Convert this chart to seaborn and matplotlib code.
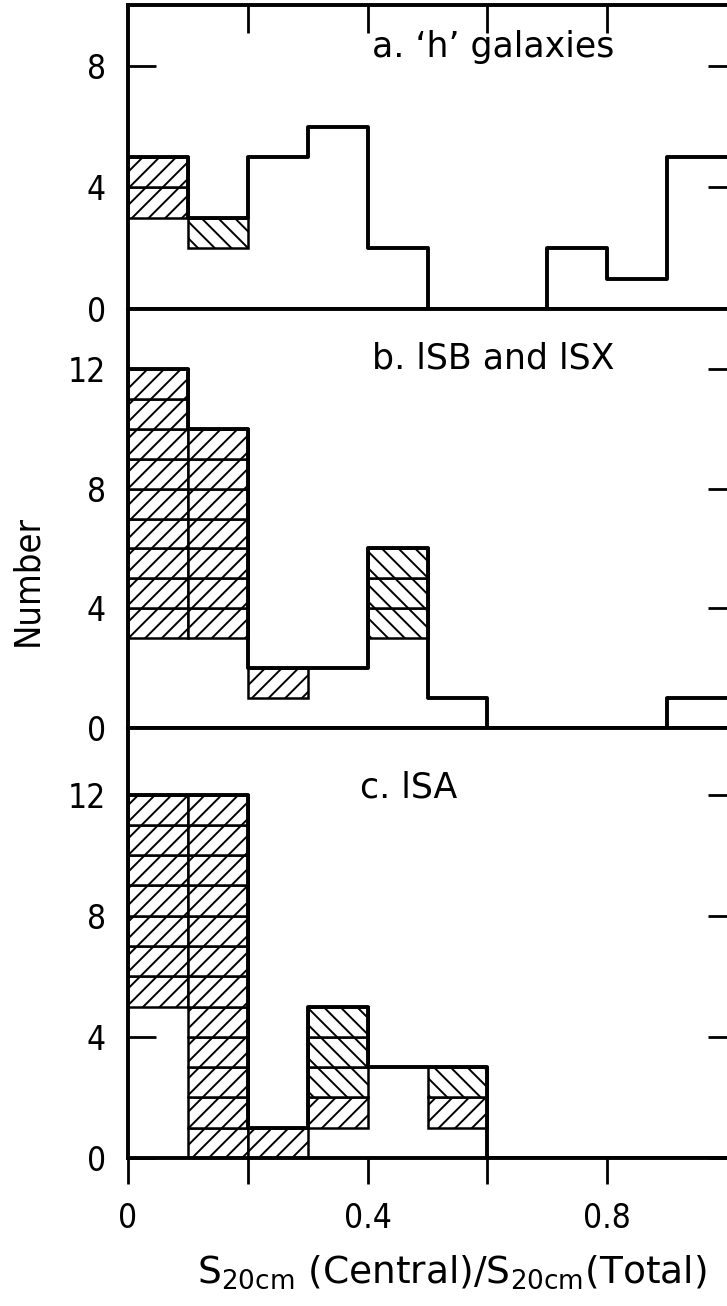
import numpy as np
import pandas as pd
import matplotlib
matplotlib.use("Agg")
import matplotlib.pyplot as plt
import seaborn as sns

# ---------------- data ----------------
bin_edges = [0.0, 0.1, 0.2, 0.3, 0.4, 0.5, 0.6, 0.7, 0.8, 0.9, 1.0]
# counts per bin: unshaded part, '/'-hatched part (above), '\'-hatched part (on top)
a_plain = [3, 2, 5, 6, 2, 0, 0, 2, 1, 5]
a_fwd   = [2, 0, 0, 0, 0, 0, 0, 0, 0, 0]
a_back  = [0, 1, 0, 0, 0, 0, 0, 0, 0, 0]

b_plain = [3, 3, 1, 2, 3, 1, 0, 0, 0, 1]
b_fwd   = [9, 7, 1, 0, 0, 0, 0, 0, 0, 0]
b_back  = [0, 0, 0, 0, 3, 0, 0, 0, 0, 0]

c_plain = [5, 0, 0, 1, 3, 1, 0, 0, 0, 0]
c_fwd   = [7, 12, 1, 1, 0, 1, 0, 0, 0, 0]
c_back  = [0, 0, 0, 3, 0, 1, 0, 0, 0, 0]

panel_labels = ["a. \u2018h\u2019 galaxies", "b. lSB and lSX", "c. lSA"]
y_ticks = [[0, 4, 8], [0, 4, 8, 12], [0, 4, 8, 12]]
x_ticks = [0, 0.2, 0.4, 0.6, 0.8]
x_ticklabels = ["0", "", "0.4", "", "0.8"]
y_label = "Number"
x_label = r"S$_{\mathrm{20cm}}$ (Central)/S$_{\mathrm{20cm}}$(Total)"

# ---------------- style ----------------
sns.set_theme(style="white")
plt.rcParams["font.family"] = ["DejaVu Sans"]
plt.rcParams["mathtext.fontset"] = "dejavusans"
plt.rcParams["hatch.linewidth"] = 1.4
plt.rcParams["hatch.color"] = "black"

W, H = 727, 1306
fig = plt.figure(figsize=(W / 100, H / 100), dpi=100)
fig.patch.set_facecolor("white")

left = 128 / W
width = (W - 128) / W
pix = [(5, 309), (309, 728), (728, 1158)]
ylims = [10.0, 14.0, 14.2]
text_pos = [(0.407, 8.3), (0.407, 12.0), (0.387, 11.9)]

panels = [(a_plain, a_fwd, a_back), (b_plain, b_fwd, b_back), (c_plain, c_fwd, c_back)]
edges = np.array(bin_edges)
centers = (edges[:-1] + edges[1:]) / 2
widths = np.diff(edges)

axes = []
for p, (plain, fwd, back) in enumerate(panels):
    top_px, bot_px = pix[p]
    ax = fig.add_axes([left, 1 - bot_px / H, width, (bot_px - top_px) / H])
    axes.append(ax)
    totals = np.array(plain) + np.array(fwd) + np.array(back)
    df = pd.DataFrame({"x": centers, "w": totals})

    # hatched unit cells
    for i in range(len(centers)):
        for k in range(fwd[i]):
            ax.bar(edges[i], 1, width=widths[i], bottom=plain[i] + k, align="edge",
                   facecolor="white", edgecolor="black", linewidth=1.8, hatch="//", zorder=2)
        for k in range(back[i]):
            ax.bar(edges[i], 1, width=widths[i], bottom=plain[i] + fwd[i] + k, align="edge",
                   facecolor="white", edgecolor="black", linewidth=1.8, hatch="\\\\", zorder=2)

    # histogram outline
    sns.histplot(data=df, x="x", weights="w", bins=bin_edges, element="step", fill=False,
                 color="black", linewidth=2.8, ax=ax, zorder=3)

    ax.set_xlim(0, 1.0)
    ax.set_ylim(0, ylims[p])
    ax.set_xlabel("")
    ax.set_ylabel("")
    ax.set_facecolor("white")
    for side in ["left", "top", "bottom"]:
        ax.spines[side].set_visible(True)
        ax.spines[side].set_color("black")
        ax.spines[side].set_linewidth(2.8)
        ax.spines[side].set_zorder(4)
    ax.spines["right"].set_visible(False)

    ax.set_yticks(y_ticks[p])
    ax.set_yticklabels([str(v) for v in y_ticks[p]], fontsize=24, fontstretch="condensed")
    ax.tick_params(axis="y", direction="in", left=True, right=True, length=20, width=2,
                   pad=16, colors="black")
    for t in ax.yaxis.get_major_ticks():
        t.tick2line.set_markersize(14)

    tx, ty = text_pos[p]
    ax.text(tx, ty, panel_labels[p], ha="left", va="baseline", fontsize=25, color="black")

# panel a: top ticks pointing inward
axes[0].set_xticks([0.2, 0.4, 0.6, 0.8])
axes[0].tick_params(axis="x", top=True, bottom=False, direction="in", length=20, width=2,
                    labeltop=False, labelbottom=False, colors="black")
# panel b: no x ticks
axes[1].set_xticks([])
axes[1].tick_params(axis="x", top=False, bottom=False, labelbottom=False)
# panel c: bottom outward ticks with labels
axes[2].set_xticks(x_ticks)
axes[2].set_xticklabels(x_ticklabels, fontsize=24, fontstretch="condensed")
axes[2].tick_params(axis="x", bottom=True, top=False, direction="out", length=19, width=2,
                    pad=13, colors="black")

fig.text(27 / W, 1 - 581 / H, y_label, rotation=90, ha="center", va="center",
         fontsize=26, fontstretch="condensed", color="black")
fig.text(452 / W, 1 - 1272 / H, x_label, ha="center", va="center", fontsize=27, color="black")

fig.savefig("out.png", dpi=100, facecolor="white")
